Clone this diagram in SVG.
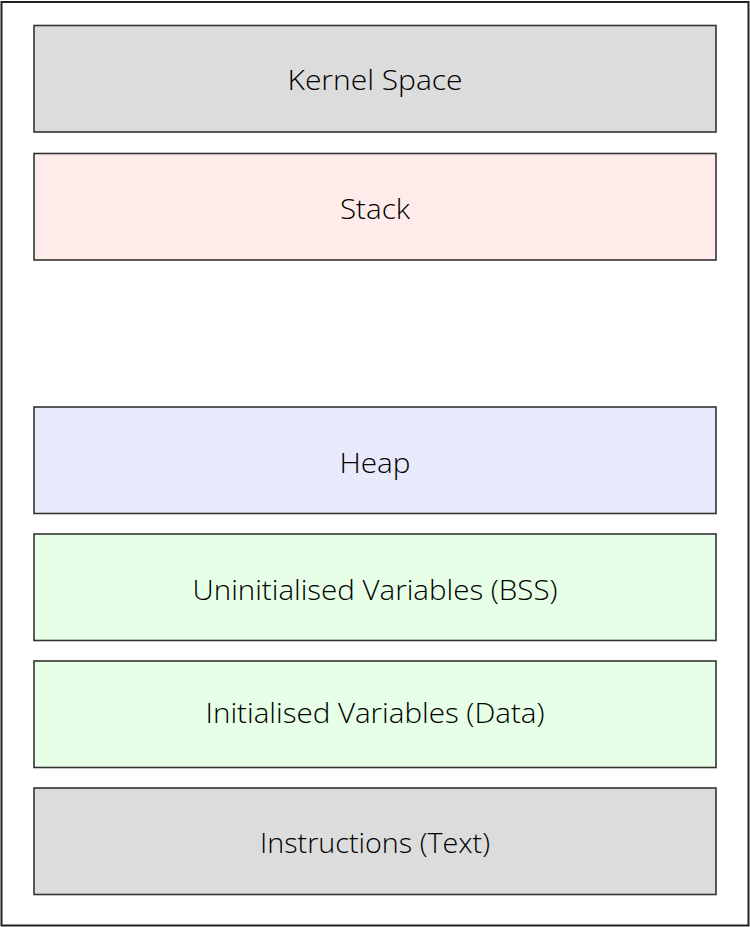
<svg xmlns="http://www.w3.org/2000/svg" width="750" height="927" viewBox="0 0 750 927">
<style>
.box{stroke:#333;stroke-width:1.6}
.lbl{font-family:"Open Sans","Noto Sans",sans-serif;font-weight:300;font-size:27px;fill:#000;text-anchor:middle}
</style>
<rect x="0" y="0" width="750" height="927" fill="#fff"/>
<rect x="1.5" y="2" width="747" height="923.5" fill="none" stroke="#222" stroke-width="2"/>
<g id="kernel"><rect class="box" x="34" y="25.5" width="682" height="106.5" fill="#dcdcdc"/><text class="lbl" x="375" y="90" textLength="175" lengthAdjust="spacingAndGlyphs">Kernel Space</text></g>
<g id="stack"><rect class="box" x="34" y="153.5" width="682" height="106.5" fill="#ffecea"/><text class="lbl" x="375" y="219" textLength="70" lengthAdjust="spacingAndGlyphs">Stack</text></g>
<g id="heap"><rect class="box" x="34" y="407" width="682" height="106.5" fill="#e9e9fc"/><text class="lbl" x="375" y="473" textLength="71" lengthAdjust="spacingAndGlyphs">Heap</text></g>
<g id="bss"><rect class="box" x="34" y="534" width="682" height="106.5" fill="#e6ffe6"/><text class="lbl" x="375" y="600" textLength="365" lengthAdjust="spacingAndGlyphs">Uninitialised Variables (BSS)</text></g>
<g id="data"><rect class="box" x="34" y="661" width="682" height="106.5" fill="#e6ffe6"/><text class="lbl" x="375" y="723" textLength="339" lengthAdjust="spacingAndGlyphs">Initialised Variables (Data)</text></g>
<g id="text"><rect class="box" x="34" y="788" width="682" height="106.5" fill="#dcdcdc"/><text class="lbl" x="375" y="853" textLength="230" lengthAdjust="spacingAndGlyphs">Instructions (Text)</text></g>
<g id="connectors"></g>
</svg>
